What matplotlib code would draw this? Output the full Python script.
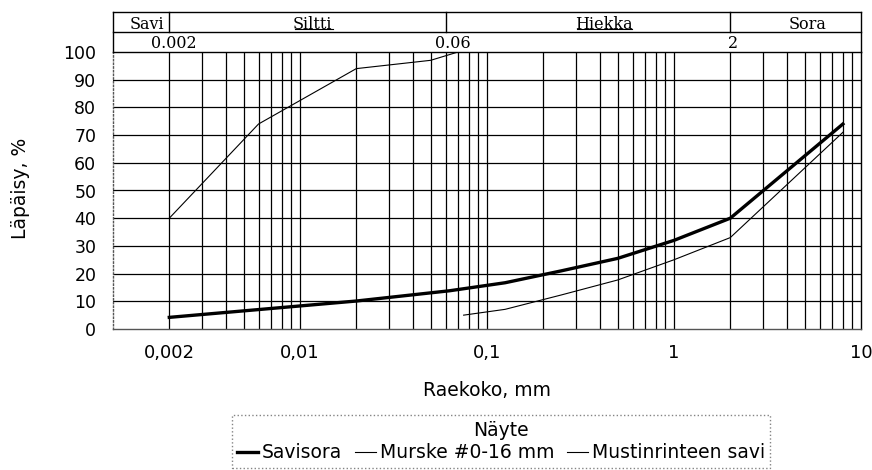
import matplotlib.pyplot as plt
import matplotlib.transforms as mtransforms
from matplotlib.ticker import FixedLocator, NullFormatter

# grain size distribution, passing % vs grain size (mm)
savisora_x = [0.002, 0.02, 0.063, 0.125, 0.25, 0.5, 1, 2, 8]
savisora_y = [4.2, 10.1, 13.8, 16.7, 21.0, 25.5, 32.0, 40.0, 74.0]

murske_x = [0.075, 0.125, 0.25, 0.5, 1, 2, 8]
murske_y = [5.0, 7.1, 12.3, 17.7, 25.0, 33.0, 71.0]

savi_x = [0.002, 0.006, 0.02, 0.05, 0.07]
savi_y = [40.0, 74.0, 94.0, 97.0, 100.0]

xtick_vals = [0.002, 0.01, 0.1, 1, 10]
xtick_labels = ["0,002", "0,01", "0,1", "1", "10"]

# soil classes and their limits
classes = ["Savi", "Siltti", "Hiekka", "Sora"]
class_limits = [0.002, 0.06, 2]
limit_labels = ["0.002", "0.06", "2"]

fig = plt.figure(figsize=(8.72, 4.70), dpi=100)
ax = fig.add_axes([113 / 872, 141 / 470, 748 / 872, 277 / 470])

ax.plot(savisora_x, savisora_y, color="black", lw=2.4, label="Savisora",
        solid_joinstyle="miter")
ax.plot(murske_x, murske_y, color="black", lw=0.8, label="Murske #0-16 mm")
ax.plot(savi_x, savi_y, color="black", lw=0.8, label="Mustinrinteen savi")

ax.set_xscale("log")
ax.set_xlim(0.001, 10)
ax.set_ylim(0, 100)

# log grid from 0.002 upward
grid_x = [m * 10.0 ** k for k in range(-3, 1) for m in range(1, 10)]
grid_x = [g for g in grid_x if 0.0019 < g < 9.9]
for g in grid_x:
    ax.axvline(g, color="black", lw=0.9, zorder=1)
for v in range(10, 100, 10):
    ax.axhline(v, color="black", lw=0.9, zorder=1)

ax.xaxis.set_major_locator(FixedLocator(xtick_vals))
ax.xaxis.set_minor_locator(FixedLocator([]))
ax.xaxis.set_minor_formatter(NullFormatter())
ax.set_xticklabels(xtick_labels)
ax.set_yticks(range(0, 101, 10))
ax.tick_params(axis="x", length=0, pad=11, labelsize=13)
ax.tick_params(axis="y", length=0, pad=12, labelsize=12.5)

ax.spines["left"].set_linestyle(":")
ax.spines["left"].set_color("#555555")
ax.spines["bottom"].set_color("#555555")
ax.spines["right"].set_color("black")
ax.spines["top"].set_color("black")
for s in ax.spines.values():
    s.set_linewidth(1.0)

fig.text(21 / 872, 1 - 188 / 470, "Läpäisy, %", fontsize=13.5,
         rotation=90, ha="center", va="center")
fig.text(487 / 872, 1 - 390 / 470, "Raekoko, mm", fontsize=13.5,
         ha="center", va="center")

# classification header above the plot
trans = mtransforms.blended_transform_factory(ax.transData, ax.transAxes)
hdr_top, hdr_mid = 1.1444, 1.0722
for yy in (hdr_top, hdr_mid):
    ax.plot([0, 1], [yy, yy], transform=ax.transAxes, color="black",
            lw=1.0, clip_on=False)
for xx in (0, 1):
    ax.plot([xx, xx], [1, hdr_top], transform=ax.transAxes, color="black",
            lw=1.0, clip_on=False)
for lim in class_limits:
    ax.plot([lim, lim], [hdr_mid, hdr_top], transform=trans, color="black",
            lw=1.0, clip_on=False)

serif = dict(family="DejaVu Serif", fontsize=11.5, ha="center", va="center",
             transform=ax.transAxes)
for name, xc in zip(classes, [0.0455, 0.267, 0.656, 0.928]):
    ax.text(xc, 1.101, name, **serif)
for lab, xc in zip(limit_labels, [0.081, 0.4545, 0.829]):
    ax.text(xc, 1.029, lab, **serif)
# underlines under Siltti and Hiekka
for x0, x1 in [(0.243, 0.294), (0.620, 0.694)]:
    ax.plot([x0, x1], [1.083, 1.083], transform=ax.transAxes, color="black",
            lw=0.8, clip_on=False)

leg = fig.legend(loc="center", bbox_to_anchor=(501 / 872, 1 - 441.5 / 470),
                 ncol=3, title="Näyte", fontsize=13.5, title_fontsize=13.5,
                 handlelength=1.1, handletextpad=0.2, columnspacing=0.7,
                 borderpad=0.3, labelspacing=0.2, fancybox=False,
                 frameon=True)
leg.get_frame().set_edgecolor("#666666")
leg.get_frame().set_linestyle(":")
leg.get_frame().set_linewidth(1.0)

fig.savefig("out.png", dpi=100)
